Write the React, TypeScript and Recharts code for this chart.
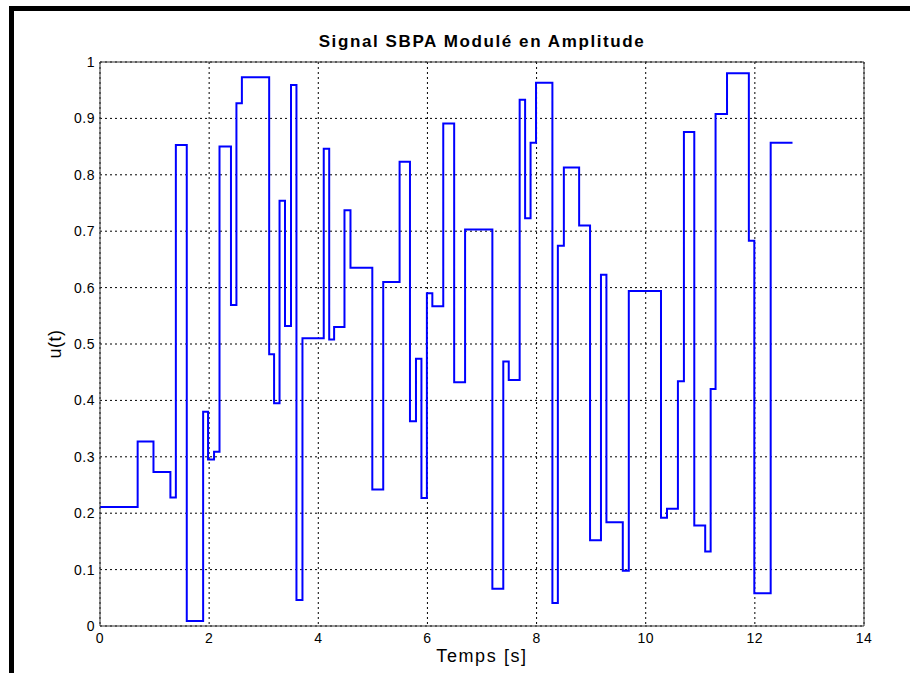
import { LineChart, Line, XAxis, YAxis, CartesianGrid, ReferenceLine } from "recharts";

// step instants (s) and levels of the modulated PRBS signal
const stepTimes = [
  0, 0.69, 0.98, 1.29, 1.39, 1.59, 1.89, 1.98, 2.09, 2.19,
  2.4, 2.5, 2.6, 3.1, 3.19, 3.29, 3.39, 3.5, 3.6, 3.71,
  4.1, 4.2, 4.29, 4.48, 4.59, 4.99, 5.19, 5.49, 5.68, 5.79,
  5.89, 5.99, 6.09, 6.29, 6.49, 6.69, 7.19, 7.39, 7.49, 7.69,
  7.79, 7.89, 7.99, 8.29, 8.39, 8.5, 8.78, 8.98, 9.18, 9.28,
  9.58, 9.69, 10.28, 10.39, 10.59, 10.7, 10.89, 11.09, 11.19, 11.28,
  11.49, 11.89, 11.99, 12.29,
];
const stepValues = [
  0.211, 0.327, 0.273, 0.228, 0.853, 0.009, 0.38, 0.295, 0.309, 0.85,
  0.569, 0.927, 0.973, 0.482, 0.395, 0.754, 0.532, 0.959, 0.046, 0.51,
  0.846, 0.508, 0.53, 0.737, 0.635, 0.242, 0.61, 0.823, 0.363, 0.474,
  0.227, 0.59, 0.567, 0.891, 0.432, 0.703, 0.066, 0.469, 0.436, 0.933,
  0.723, 0.857, 0.963, 0.041, 0.674, 0.813, 0.71, 0.152, 0.623, 0.184,
  0.098, 0.594, 0.192, 0.208, 0.434, 0.876, 0.178, 0.132, 0.42, 0.908,
  0.98, 0.683, 0.058, 0.857,
];
const endTime = 12.69;

const xTicks = [0, 2, 4, 6, 8, 10, 12, 14];
const yTicks = [0, 0.1, 0.2, 0.3, 0.4, 0.5, 0.6, 0.7, 0.8, 0.9, 1];

const data = stepTimes
  .map((t, i) => ({ t, u: stepValues[i] }))
  .concat([{ t: endTime, u: stepValues[stepValues.length - 1] }]);

const font = "'Liberation Sans', Arial, sans-serif";

export default function App() {
  return (
    <div style={{ position: "absolute", left: 0, top: 0, width: 910, height: 673, background: "#fff", fontFamily: font }}>
      <LineChart
        width={910}
        height={673}
        data={data}
        margin={{ top: 62, right: 46, left: 60, bottom: 17 }}
      >
        <CartesianGrid stroke="#000" strokeDasharray="2 3" strokeWidth={1} />
        <XAxis
          dataKey="t"
          type="number"
          domain={[0, 14]}
          ticks={xTicks}
          height={30}
          tickSize={0}
          tickMargin={7}
          axisLine={{ stroke: "#333" }}
          tick={{ fill: "#000", fontSize: 14, fontFamily: font, letterSpacing: 0.5 }}
        />
        <YAxis
          type="number"
          domain={[0, 1]}
          ticks={yTicks}
          width={40}
          tickSize={0}
          tickMargin={5}
          axisLine={{ stroke: "#333" }}
          tick={{ fill: "#000", fontSize: 14, fontFamily: font, letterSpacing: 0.5 }}
        />
        <ReferenceLine y={1} stroke="#333" />
        <ReferenceLine x={14} stroke="#333" />
        <Line
          type="stepAfter"
          dataKey="u"
          stroke="#0000ff"
          strokeWidth={2}
          dot={false}
          isAnimationActive={false}
        />
      </LineChart>
      <div style={{ position: "absolute", left: 9, top: 6, width: 901, height: 5, background: "#000" }} />
      <div style={{ position: "absolute", left: 9, top: 6, width: 5, height: 667, background: "#000" }} />
      <div
        style={{
          position: "absolute",
          left: 100,
          width: 764,
          top: 32,
          textAlign: "center",
          fontWeight: "bold",
          fontSize: 17,
          letterSpacing: 1.6,
        }}
      >
        Signal SBPA Modulé en Amplitude
      </div>
      <div
        style={{
          position: "absolute",
          left: 100,
          width: 764,
          top: 646,
          textAlign: "center",
          fontSize: 18,
          letterSpacing: 1.6,
        }}
      >
        Temps [s]
      </div>
      <div
        style={{
          position: "absolute",
          left: 55,
          top: 344,
          fontSize: 18,
          letterSpacing: 0.5,
          transform: "translate(-50%, -50%) rotate(-90deg)",
          whiteSpace: "nowrap",
        }}
      >
        u(t)
      </div>
    </div>
  );
}
